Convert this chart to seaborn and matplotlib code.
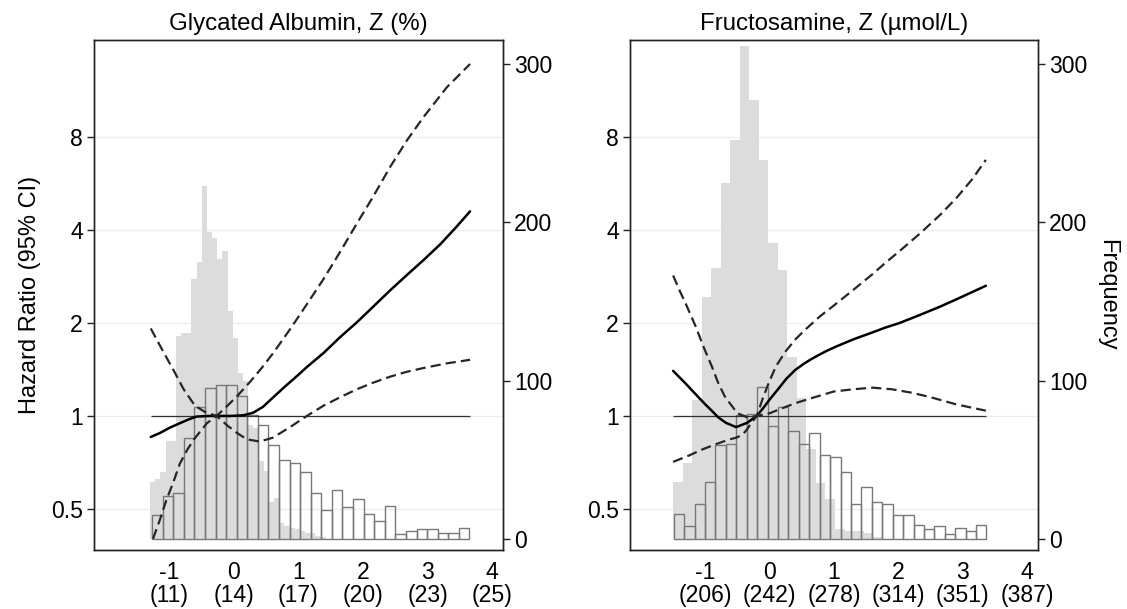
import numpy as np
import pandas as pd
import matplotlib
matplotlib.use('Agg')
import matplotlib.pyplot as plt
from matplotlib.ticker import NullLocator
import seaborn as sns

sns.set_theme(style='white')
plt.rcParams['font.family'] = ['Liberation Sans', 'DejaVu Sans']
plt.rcParams['font.size'] = 16
plt.rcParams['text.color'] = 'black'
plt.rcParams['axes.labelcolor'] = 'black'
plt.rcParams['xtick.color'] = 'black'
plt.rcParams['ytick.color'] = 'black'

# axis ticks
z_ticks = [-2, -1, 0, 1, 2, 3, 4]
ga_xlabels = ['', '-1\n(11)', '0\n(14)', '1\n(17)', '2\n(20)', '3\n(23)', '4\n(25)']
fa_xlabels = ['', '-1\n(206)', '0\n(242)', '1\n(278)', '2\n(314)', '3\n(351)', '4\n(387)']
hr_ticks = [0.5, 1, 2, 4, 8]
hr_labels = ['0.5', '1', '2', '4', '8']
freq_ticks = [0, 100, 200, 300]

# ---- Glycated albumin histograms (counts per bin) ----
ga_gray_start, ga_gray_width = -1.30, 0.08
ga_gray_counts = [36, 38, 42, 62, 62, 128, 130, 130, 164, 175, 223, 194, 190, 177,
                  182, 144, 127, 105, 100, 72, 70, 49, 43, 23, 26, 10, 8, 7, 6, 5,
                  4, 4, 2, 1]
ga_out_start, ga_out_width = -1.27, 0.164
ga_out_counts = [15, 27, 29, 64, 83, 95, 97, 97, 90, 78, 72, 59, 50, 48, 42, 29,
                 18, 31, 20, 25, 16, 11, 21, 3, 5, 6, 6, 4, 4, 7]

# ---- Glycated albumin spline (HR and two CI lines) ----
ga_z = [-1.29, -1.15, -1.0, -0.84, -0.7, -0.58, -0.4, -0.27, -0.05, 0.15, 0.3,
        0.45, 0.61, 0.8, 1.0, 1.13, 1.39, 1.646, 1.905, 2.15, 2.42, 2.68, 2.94,
        3.2, 3.45, 3.66]
ga_hr = [0.855, 0.88, 0.915, 0.947, 0.975, 0.995, 1.0, 1.0, 1.0, 1.005, 1.025,
         1.07, 1.15, 1.25, 1.36, 1.44, 1.6, 1.8, 2.01, 2.25, 2.55, 2.86, 3.2,
         3.6, 4.1, 4.6]
ga_ci1_z = [-1.29, -1.1, -0.94, -0.78, -0.606, -0.45, -0.27, -0.1, 0.05, 0.2, 0.4,
            0.6, 0.87, 1.13, 1.39, 1.646, 1.905, 2.15, 2.42, 2.68, 2.94, 3.3, 3.66]
ga_ci1 = [1.92, 1.62, 1.41, 1.22, 1.08, 1.03, 1.0, 0.93, 0.88, 0.84, 0.826,
          0.85, 0.92, 1.0, 1.08, 1.15, 1.22, 1.28, 1.34, 1.39, 1.43, 1.48, 1.52]
ga_ci2_z = [-1.255, -1.15, -1.045, -0.94, -0.84, -0.72, -0.606, -0.42, -0.27, -0.1,
            0.05, 0.25, 0.43, 0.61, 0.87, 1.13, 1.39, 1.646, 1.905, 2.15, 2.42,
            2.68, 2.94, 3.3, 3.66]
ga_ci2 = [0.40, 0.46, 0.536, 0.61, 0.70, 0.78, 0.847, 0.947, 1.0, 1.08, 1.16,
          1.29, 1.43, 1.60, 1.91, 2.30, 2.78, 3.4, 4.2, 5.1, 6.4, 7.8, 9.3, 11.6,
          13.8]

# ---- Fructosamine histograms ----
fa_gray_start, fa_gray_width = -1.50, 0.148
fa_gray_counts = [36, 48, 88, 153, 171, 225, 252, 311, 277, 239, 187, 170, 115, 89,
                  57, 35, 25, 6, 5, 5, 4, 1.5]
fa_out_start, fa_out_width = -1.49, 0.162
fa_out_counts = [16, 8, 22, 36, 59, 60, 78, 79, 96, 71, 83, 68, 60, 67, 53, 52, 42,
                 22, 33, 23, 22, 15, 15, 9, 6, 8, 3, 7, 5, 9]

# ---- Fructosamine spline ----
fa_z = [-1.5, -1.3, -1.19, -1.0, -0.9, -0.8, -0.68, -0.52, -0.35, -0.2, -0.1, 0.0,
        0.13, 0.26, 0.4, 0.52, 0.63, 0.75, 0.9, 1.04, 1.3, 1.555, 1.79, 2.02,
        2.35, 2.65, 2.91, 3.15, 3.36]
fa_hr = [1.40, 1.27, 1.20, 1.09, 1.04, 0.99, 0.95, 0.92, 0.95, 1.0, 1.06, 1.13,
         1.22, 1.32, 1.41, 1.47, 1.52, 1.57, 1.63, 1.68, 1.77, 1.85, 1.93, 2.0,
         2.13, 2.26, 2.39, 2.52, 2.64]
fa_ci1_z = [-1.5, -1.4, -1.3, -1.15, -1.02, -0.9, -0.8, -0.7, -0.62, -0.5, -0.35,
            -0.2, 0.0, 0.2, 0.4, 0.7, 1.0, 1.3, 1.6, 1.9, 2.2, 2.5, 2.9, 3.36]
fa_ci1 = [2.85, 2.55, 2.3, 1.95, 1.66, 1.45, 1.28, 1.16, 1.10, 1.02, 0.99, 1.0,
          1.02, 1.06, 1.10, 1.15, 1.20, 1.22, 1.235, 1.22, 1.19, 1.15, 1.09, 1.04]
fa_ci2_z = [-1.5, -1.25, -1.04, -0.8, -0.62, -0.52, -0.42, -0.36, -0.28, -0.2, -0.1,
            0.0, 0.1, 0.25, 0.4, 0.55, 0.78, 1.0, 1.3, 1.6, 1.79, 2.02, 2.35, 2.65,
            2.91, 3.15, 3.36]
fa_ci2 = [0.71, 0.745, 0.78, 0.815, 0.84, 0.85, 0.87, 0.90, 0.95, 1.0, 1.15, 1.3,
          1.45, 1.62, 1.77, 1.9, 2.1, 2.28, 2.56, 2.88, 3.12, 3.42, 3.92, 4.48, 5.1,
          5.85, 6.75]


def hist_frame(start, width, counts):
    edges = start + width * np.arange(len(counts) + 1)
    df = pd.DataFrame({'z': (edges[:-1] + edges[1:]) / 2, 'n': counts})
    return df, list(edges)


def draw_panel(rect, title, xlabels, gray, outline, curve, ci1, ci2,
               left_label='', right_label=''):
    ax = fig.add_axes(rect)
    ax2 = ax.twinx()

    # histograms on the frequency axis (drawn underneath)
    g_df, g_edges = hist_frame(*gray)
    sns.histplot(data=g_df, x='z', weights='n', bins=g_edges, ax=ax,
                 color='#dcdcdc', alpha=1, linewidth=0, zorder=2)
    o_df, o_edges = hist_frame(*outline)
    sns.histplot(data=o_df, x='z', weights='n', bins=o_edges, ax=ax,
                 fill=False, color='#787878', linewidth=1.0, zorder=3)

    ax.set_xlim(-2.17, 4.17)
    ax.set_ylim(-7, 315)
    ax2.set_yscale('log', base=2)
    ax2.set_ylim(0.368, 16.5)

    # faint horizontal grid at the HR ticks, behind the bars
    for hr in hr_ticks:
        y = ax.transData.inverted().transform(ax2.transData.transform((0, hr)))[1]
        ax.axhline(y, color='#ededed', lw=0.9, zorder=1)

    # spline and confidence lines on the HR axis
    cz, chr_ = curve
    ax2.hlines(1, cz[0], cz[-1], color='#303030', lw=0.9)
    sns.lineplot(x=cz, y=chr_, ax=ax2, color='black', lw=1.8)
    for zz, vv in (ci1, ci2):
        sns.lineplot(x=zz, y=vv, ax=ax2, color='#262626', lw=1.6)
        ax2.lines[-1].set_dashes((4.6, 2.3))

    # axes styling
    ax.yaxis.tick_right()
    ax.yaxis.set_label_position('right')
    ax2.yaxis.tick_left()
    ax2.yaxis.set_label_position('left')
    ax.set_yticks(freq_ticks)
    ax.set_yticklabels([str(v) for v in freq_ticks])
    ax2.set_yticks(hr_ticks)
    ax2.set_yticklabels(hr_labels)
    ax2.yaxis.set_minor_locator(NullLocator())
    ax.set_xticks(z_ticks)
    ax.set_xticklabels(xlabels, linespacing=1.0)
    for a in (ax, ax2):
        a.tick_params(direction='out', length=5, width=1.0, color='#222222',
                      labelsize=16.6, pad=3)
        for s in a.spines.values():
            s.set_color('#222222')
            s.set_linewidth(1.0)
    ax.set_xlabel('')
    ax.set_ylabel(right_label, rotation=270, fontsize=17, labelpad=22)
    ax2.set_ylabel(left_label, fontsize=17, labelpad=7)
    ax.set_title(title, fontsize=17.3, pad=7)
    return ax, ax2


fig = plt.figure(figsize=(11.27, 6.09), dpi=100)

draw_panel([0.0834, 0.0969, 0.3629, 0.8374], 'Glycated Albumin, Z (%)', ga_xlabels,
           (ga_gray_start, ga_gray_width, ga_gray_counts),
           (ga_out_start, ga_out_width, ga_out_counts),
           (ga_z, ga_hr), (ga_ci1_z, ga_ci1), (ga_ci2_z, ga_ci2),
           left_label='Hazard Ratio (95% CI)')

draw_panel([0.559, 0.0969, 0.362, 0.8374], 'Fructosamine, Z (\u00b5mol/L)', fa_xlabels,
           (fa_gray_start, fa_gray_width, fa_gray_counts),
           (fa_out_start, fa_out_width, fa_out_counts),
           (fa_z, fa_hr), (fa_ci1_z, fa_ci1), (fa_ci2_z, fa_ci2),
           right_label='Frequency')

fig.savefig('out.png', dpi=100, facecolor='white')
